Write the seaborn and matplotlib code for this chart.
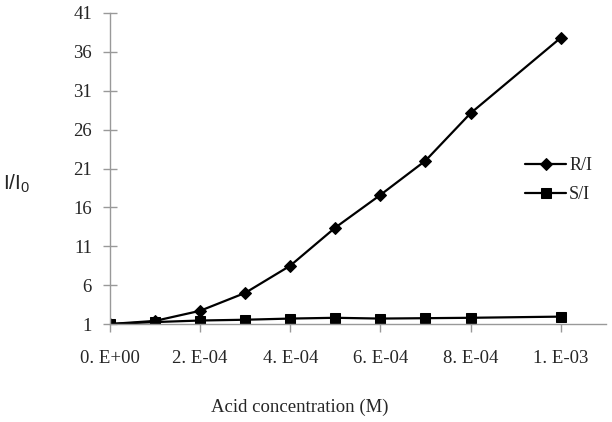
import matplotlib
matplotlib.use("Agg")
import matplotlib.pyplot as plt
import seaborn as sns
import pandas as pd

# acid concentration (M) and intensity ratios
conc_ri = [0, 1e-4, 2e-4, 3e-4, 4e-4, 5e-4, 6e-4, 7e-4, 8e-4, 1e-3]
ratio_ri = [1.0, 1.4, 2.7, 5.0, 8.5, 13.4, 17.6, 22.0, 28.1, 37.8]

conc_si = [0, 1e-4, 2e-4, 3e-4, 4e-4, 5e-4, 6e-4, 7e-4, 8e-4, 1e-3]
ratio_si = [1.0, 1.25, 1.45, 1.55, 1.7, 1.8, 1.7, 1.75, 1.8, 1.95]

x_ticks = [0, 2e-4, 4e-4, 6e-4, 8e-4, 1e-3]
x_tick_labels = ["0. E+00", "2. E-04", "4. E-04", "6. E-04", "8. E-04", "1. E-03"]
y_ticks = [1, 6, 11, 16, 21, 26, 31, 36, 41]


def main():
    sns.set_style("white")
    plt.rcParams['font.family'] = ['Liberation Serif', 'DejaVu Serif']

    df_ri = pd.DataFrame({'conc': conc_ri, 'ratio': ratio_ri})
    df_si = pd.DataFrame({'conc': conc_si, 'ratio': ratio_si})

    fig = plt.figure(figsize=(6.12, 4.22), dpi=100)
    ax = fig.add_axes([0.1797, 0.2322, 0.810, 0.737])

    sns.lineplot(data=df_ri, x='conc', y='ratio', ax=ax, color='black', marker='D',
                 markersize=6, linewidth=1.6, label='R/I', markeredgecolor='black')
    sns.lineplot(data=df_si, x='conc', y='ratio', ax=ax, color='black', marker='s',
                 markersize=6.5, linewidth=1.6, label='S/I', markeredgecolor='black')

    ax.set_xlim(0, 1.1e-3)
    ax.set_ylim(1, 41)
    ax.set_xticks(x_ticks)
    ax.set_xticklabels(x_tick_labels)
    ax.set_yticks(y_ticks)

    for side in ['top', 'right']:
        ax.spines[side].set_visible(False)
    for side in ['left', 'bottom']:
        ax.spines[side].set_color('#999999')
        ax.spines[side].set_linewidth(1.0)

    ax.tick_params(axis='y', direction='inout', length=10, width=1, color='#999999',
                   labelsize=13.5, pad=8, left=True)
    ax.tick_params(axis='x', direction='out', length=6, width=1, color='#999999',
                   labelsize=13.5, pad=13, bottom=True)

    ax.set_xlabel("Acid concentration (M)", fontsize=13.5, va='center')
    ax.xaxis.set_label_coords(0.383, -0.267)
    ax.set_ylabel("I/I$_\\mathregular{0}$", fontsize=15, rotation=0, va='center', ha='center',
                  family=['Liberation Sans', 'DejaVu Sans'])
    ax.yaxis.set_label_coords(-0.188, 0.45)

    ax.legend(loc='center left', bbox_to_anchor=(0.837, 0.462), frameon=False,
              borderaxespad=0, borderpad=0, fontsize=13, handlelength=2.3,
              handletextpad=0.15, labelspacing=0.65)

    fig.savefig("out.png", dpi=100)


if __name__ == "__main__":
    main()
